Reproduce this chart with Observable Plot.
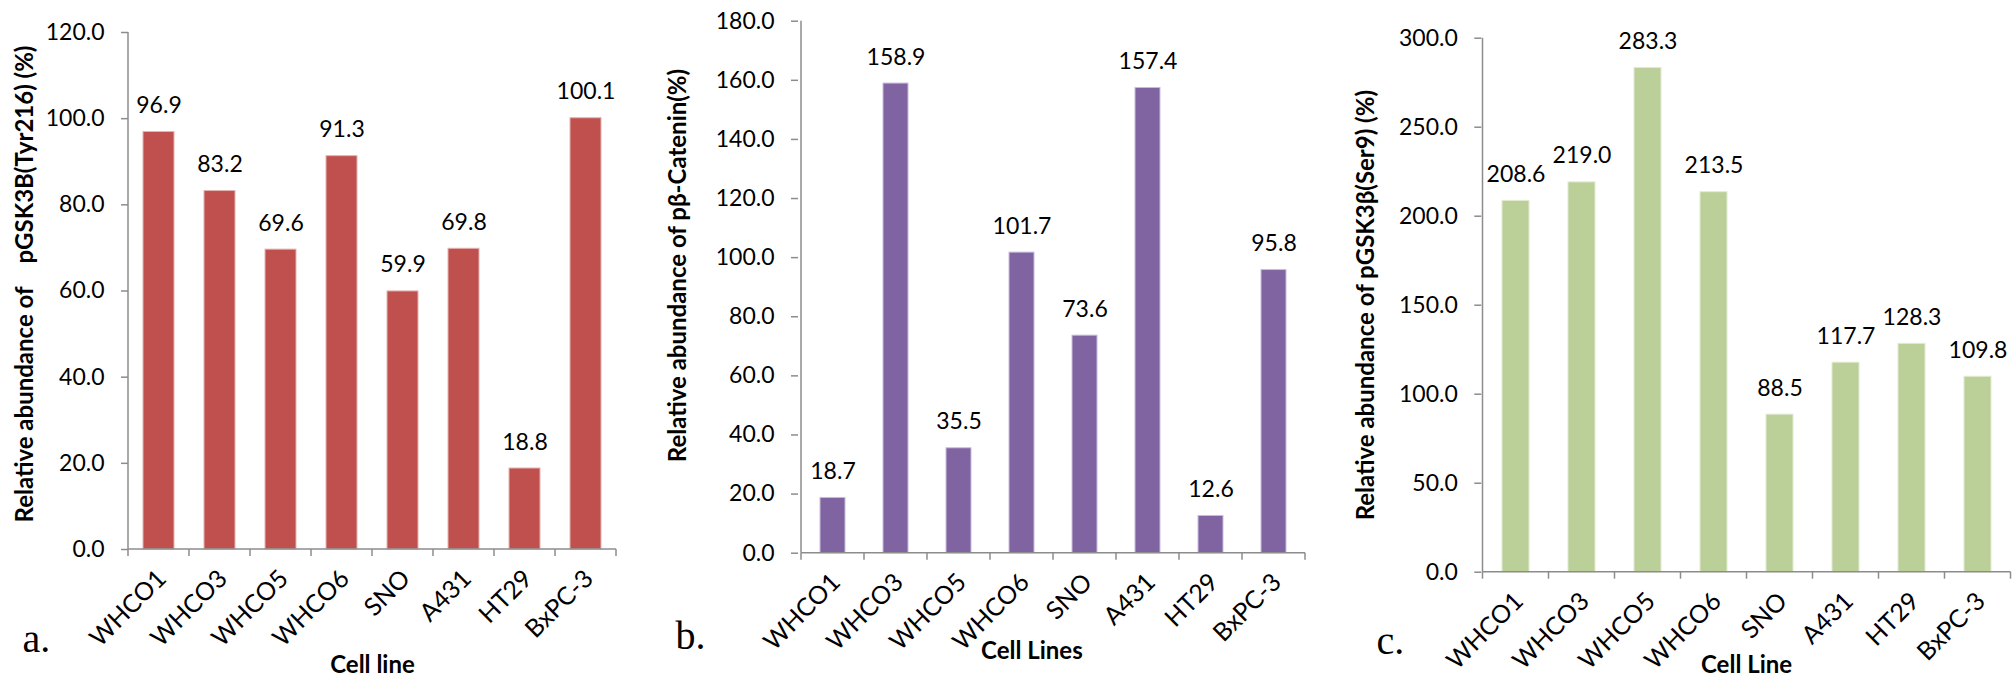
<!DOCTYPE html>
<html>
<head>
<meta charset="utf-8">
<script src="https://cdn.jsdelivr.net/npm/d3@7"></script>
<script src="https://cdn.jsdelivr.net/npm/@observablehq/plot@0.6"></script>
<style>
  html, body { margin: 0; padding: 0; background: #fff; }
  #wrap { position: relative; width: 2013px; height: 678px; overflow: hidden; background: #fff; }
  .panel { position: absolute; top: 0; }
  .panel svg { overflow: visible; }
</style>
</head>
<body>
<div id="wrap"></div>
<script>
// Cell lines shared by all three panels
const cellLines = ["WHCO1", "WHCO3", "WHCO5", "WHCO6", "SNO", "A431", "HT29", "BxPC-3"];

// Relative abundance (%) per cell line
const tyr216 = [96.9, 83.2, 69.6, 91.3, 59.9, 69.8, 18.8, 100.1];
const catenin = [18.7, 158.9, 35.5, 101.7, 73.6, 157.4, 12.6, 95.8];
const ser9 = [208.6, 219.0, 283.3, 213.5, 88.5, 117.7, 128.3, 109.8];

// Y tick values
const ticksA = [0, 20, 40, 60, 80, 100, 120];
const ticksB = [0, 20, 40, 60, 80, 100, 120, 140, 160, 180];
const ticksC = [0, 50, 100, 150, 200, 250, 300];

// Texts
const yTitles = [
  "Relative abundance of\u00a0\u00a0\u00a0\u00a0pGSK3B(Tyr216) (%)",
  "Relative abundance of pβ-Catenin(%)",
  "Relative abundance of pGSK3β(Ser9) (%)"
];
const xTitles = ["Cell line", "Cell Lines", "Cell Line"];
const letters = ["a.", "b.", "c."];

const AXIS = "#8c8c8c";
const FONT = "Lato, 'Open Sans', sans-serif";

// Layout and style for each panel
const panels = [
  {
    values: tyr216, ticks: ticksA, fill: "#C0504D", edge: "#e3b3b2",
    yTitle: yTitles[0], xTitle: xTitles[0], letter: letters[0],
    left: 0, width: 660, margin: {top: 32, right: 44, bottom: 129, left: 128},
    padding: 0.5,
    title: {dx: -103.5, dy: -7}, xt: {dx: 0, dy: 123}, lt: {dx: -106, dy: 102}
  },
  {
    values: catenin, ticks: ticksB, fill: "#8064A2", edge: "#c9bcdb",
    yTitle: yTitles[1], xTitle: xTitles[1], letter: letters[1],
    left: 660, width: 673, margin: {top: 20.7, right: 24.3, bottom: 125.3, left: 138},
    padding: 0.6,
    title: {dx: -120, dy: -21.7}, xt: {dx: -22, dy: 106}, lt: {dx: -123, dy: 96}
  },
  {
    values: ser9, ticks: ticksC, fill: "#BBCF98", edge: "#e2ebd3",
    yTitle: yTitles[2], xTitle: xTitles[2], letter: letters[2],
    left: 1333, width: 680, margin: {top: 37.7, right: 2.2, bottom: 106.3, left: 148.3},
    padding: 0.59,
    title: {dx: -115.8, dy: 0}, xt: {dx: 0, dy: 100.5}, lt: {dx: -105.3, dy: 82}
  }
];

// Axis lines plus category ticks at the band boundaries
function axisFrame(domain, top) {
  return (index, scales, values, dims) => {
    const x = scales.x, y = scales.y;
    const y0 = y(0), yTop = y(top);
    const step = x.step ? x.step() : (dims.width - dims.marginLeft - dims.marginRight) / domain.length;
    const half = x.bandwidth() / 2;
    const bounds = domain.map(d => x(d) + half - step / 2);
    bounds.push(x(domain[domain.length - 1]) + half + step / 2);
    const g = d3.create("svg:g")
      .attr("stroke", AXIS).attr("stroke-width", 1.5).attr("fill", "none");
    g.append("line").attr("x1", bounds[0]).attr("x2", bounds[0]).attr("y1", yTop).attr("y2", y0);
    g.append("line").attr("x1", bounds[0]).attr("x2", bounds[bounds.length - 1]).attr("y1", y0).attr("y2", y0);
    for (const b of bounds) {
      g.append("line").attr("x1", b).attr("x2", b).attr("y1", y0).attr("y2", y0 + 7);
    }
    return g.node();
  };
}

const wrap = document.getElementById("wrap");

for (const p of panels) {
  const data = cellLines.map((cell, i) => ({cell, value: p.values[i]}));
  const top = p.ticks[p.ticks.length - 1];
  const chart = Plot.plot({
    width: p.width,
    height: 678,
    marginTop: p.margin.top,
    marginRight: p.margin.right,
    marginBottom: p.margin.bottom,
    marginLeft: p.margin.left,
    style: {fontFamily: FONT, fontSize: "23px", color: "black", background: "transparent", overflow: "visible"},
    x: {domain: cellLines, paddingInner: p.padding, paddingOuter: p.padding / 2, align: 0.5},
    y: {domain: [0, top]},
    marks: [
      Plot.barY(data, {x: "cell", y: "value", fill: p.fill, stroke: p.edge, strokeWidth: 1}),
      axisFrame(cellLines, top),
      Plot.axisY({
        ticks: p.ticks, tickFormat: d3.format(".1f"), tickSize: 7, tickPadding: 17,
        stroke: AXIS, strokeWidth: 1.5, fill: "black", fontSize: 23, label: null
      }),
      Plot.axisX({
        tickRotate: -45, tickSize: 0, tickPadding: 25, dx: 3, fill: "black", fontSize: 25, label: null
      }),
      Plot.text(data, {
        x: "cell", y: "value", text: d => d.value.toFixed(1),
        dy: -19, lineAnchor: "bottom", fontSize: 23, fill: "black"
      }),
      Plot.text([p.yTitle], {
        frameAnchor: "left", rotate: -90, dx: p.title.dx, dy: p.title.dy,
        textAnchor: "middle", lineAnchor: "middle",
        fontWeight: "bold", fontSize: 24, fill: "black"
      }),
      Plot.text([p.xTitle], {
        frameAnchor: "bottom", dx: p.xt.dx, dy: p.xt.dy,
        textAnchor: "middle", lineAnchor: "bottom",
        fontWeight: "bold", fontSize: 24, fill: "black"
      }),
      Plot.text([p.letter], {
        frameAnchor: "bottom-left", dx: p.lt.dx, dy: p.lt.dy,
        textAnchor: "start", lineAnchor: "bottom",
        fontFamily: "'Liberation Serif', 'DejaVu Serif', serif", fontSize: 40, fill: "black"
      })
    ]
  });
  const holder = document.createElement("div");
  holder.className = "panel";
  holder.style.left = p.left + "px";
  holder.style.width = p.width + "px";
  holder.appendChild(chart);
  wrap.appendChild(holder);
}
</script>
</body>
</html>
